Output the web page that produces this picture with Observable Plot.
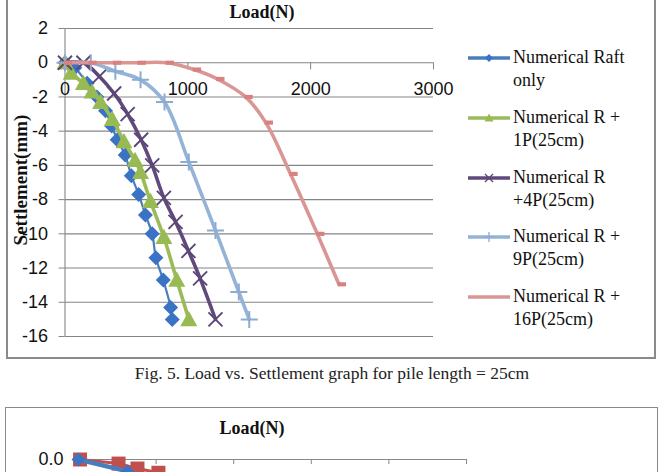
<!DOCTYPE html>
<html>
<head>
<meta charset="utf-8">
<script src="https://cdn.jsdelivr.net/npm/d3@7"></script>
<script src="https://cdn.jsdelivr.net/npm/@observablehq/plot@0.6"></script>
<style>
  body { margin: 0; background: #fff; }
  #page { position: relative; width: 664px; height: 800px; overflow: hidden; }
  .abs { position: absolute; }
  .frame { position: absolute; box-sizing: border-box; border: 2px solid #8a8a8a; }
  .title { font-family: "Liberation Serif", "Times New Roman", serif; font-weight: bold; font-size: 18px; line-height: 20px; text-align: center; color: #111; }
  .ytitle { font-family: "Liberation Serif", "Times New Roman", serif; font-weight: bold; font-size: 19px; white-space: nowrap; color: #111; transform: translate(-50%, -50%) rotate(-90deg); }
  .caption { font-family: "Liberation Serif", "Times New Roman", serif; font-size: 17.5px; line-height: 22px; text-align: center; color: #222; }
  .leg { position: absolute; font-family: "Liberation Serif", "Times New Roman", serif; font-size: 18px; line-height: 23px; color: #111; white-space: nowrap; }
  .legsw { position: absolute; }
</style>
</head>
<body>
<div id="page"></div>
<script>
// ---------- Data (Fig. 5, pile length = 25cm) ----------
const seriesNames = ["Numerical Raft only", "Numerical R + 1P(25cm)", "Numerical R +4P(25cm)", "Numerical R + 9P(25cm)", "Numerical R + 16P(25cm)"];
const legendLines = [["Numerical Raft", "only"], ["Numerical R +", "1P(25cm)"], ["Numerical R", "+4P(25cm)"], ["Numerical R +", "9P(25cm)"], ["Numerical R +", "16P(25cm)"]];

const raftLoad   = [0, 80, 180, 260, 330, 380, 425, 490, 540, 600, 655, 710, 740, 800, 860, 873];
const raftSettle = [0, -0.3, -1.2, -2.0, -2.8, -3.7, -4.5, -5.4, -6.6, -7.7, -8.9, -10.0, -11.4, -12.7, -14.3, -15.0];

const p1Load   = [0, 50, 150, 220, 290, 385, 480, 570, 615, 696, 805, 910, 1008];
const p1Settle = [0, -0.6, -1.2, -1.7, -2.3, -3.3, -4.6, -5.7, -6.4, -8.1, -10.2, -12.7, -15.0];

const p4Load   = [0, 150, 280, 400, 510, 620, 710, 805, 900, 1005, 1100, 1225];
const p4Settle = [0, 0, -0.8, -1.8, -3.0, -4.5, -6.0, -7.9, -9.3, -11.0, -12.6, -15.0];

const p9Load   = [0, 210, 410, 615, 810, 1008, 1225, 1415, 1500];
const p9Settle = [0, 0, -0.5, -1.0, -2.3, -5.8, -9.8, -13.4, -15.0];

const p16Load   = [0, 200, 400, 600, 830, 1050, 1240, 1470, 1635, 1836, 2054, 2230];
const p16Settle = [0, 0, 0, 0, 0, -0.4, -0.95, -2.0, -3.5, -6.5, -10.0, -12.95];

const xTicks = [0, 1000, 2000, 3000];
const yTicks = [2, 0, -2, -4, -6, -8, -10, -12, -14, -16];

// second (partly visible) figure
const fig6BlueLoad   = [0, 316];
const fig6BlueSettle = [0, -0.7];
const fig6RedLoad    = [10, 258, 380, 515];
const fig6RedSettle  = [0, -0.24, -0.53, -0.78];
const fig6XTicks = [0, 500, 1000, 1500, 2000, 2500];
const fig6YTicks = [0];

// ---------- Symbols ----------
const rOf = size => Math.sqrt(size / Math.PI);
const diamondSym = {draw(c, s) { const r = rOf(s); c.moveTo(0, -r); c.lineTo(r, 0); c.lineTo(0, r); c.lineTo(-r, 0); c.closePath(); }};
const triSym = {draw(c, s) { const r = rOf(s); c.moveTo(0, -r); c.lineTo(r, r * 0.8); c.lineTo(-r, r * 0.8); c.closePath(); }};
const xSym = {draw(c, s) { const r = rOf(s); c.moveTo(-r, -r); c.lineTo(r, r); c.moveTo(r, -r); c.lineTo(-r, r); }};
const plusSym = {draw(c, s) { const r = rOf(s); c.moveTo(-r, 0); c.lineTo(r, 0); c.moveTo(0, -r); c.lineTo(0, r); }};
const dashSym = {draw(c, s) { const r = rOf(s); c.rect(-r * 0.2, -r * 0.32, r * 1.3, r * 0.64); }};
const squareSym = {draw(c, s) { const r = rOf(s); c.rect(-r, -r, 2 * r, 2 * r); }};

const series = [
  {load: raftLoad, settle: raftSettle, color: "#4a7ebb", mcolor: "#3a73c4", sym: diamondSym, r: 7.5, filled: true, lw: 2.2, lr: 4},
  {load: p1Load, settle: p1Settle, color: "#9bbb59", mcolor: "#98ba52", sym: triSym, r: 8.5, filled: true, lw: 3.6, lr: 4.5},
  {load: p4Load, settle: p4Settle, color: "#604a7b", mcolor: "#5b4677", sym: xSym, r: 7, filled: false, lw: 3.6, sw: 1.9, lr: 4},
  {load: p9Load, settle: p9Settle, color: "#95b3d7", mcolor: "#8cacd4", sym: plusSym, r: 8.5, filled: false, lw: 3.6, sw: 2, lr: 5},
  {load: p16Load, settle: p16Settle, color: "#d99694", mcolor: "#d8817f", sym: dashSym, r: 6.5, filled: true, lw: 3.6, lr: 0}
];

const page = document.getElementById("page");
const FONT = "'Liberation Sans', Arial, sans-serif";

// ---------- Figure 5 ----------
const marks = [
  Plot.gridY(yTicks, {stroke: "#858585", strokeOpacity: 1, strokeWidth: 1.1}),
  Plot.ruleX([0], {stroke: "#858585", strokeWidth: 1.1}),
  Plot.axisY(yTicks, {tickSize: 6, tickPadding: 11, fontSize: 18, stroke: "#858585", tickFormat: d => String(d), label: null, fill: "#111"}),
  Plot.ruleX(xTicks.filter(d => d > 0), {x: d => d, y1: 0, y2: -0.42, stroke: "#858585"}),
  Plot.text(xTicks, {x: d => d, y: 0, dy: 27, text: d => String(d), fontSize: 18, fill: "#111"})
];
series.forEach(s => {
  const rows = s.load.map((x, i) => ({x, y: s.settle[i]}));
  marks.push(Plot.line(rows, {x: "x", y: "y", stroke: s.color, strokeWidth: s.lw, curve: "catmull-rom"}));
  marks.push(Plot.dot(rows, s.filled
    ? {x: "x", y: "y", symbol: s.sym, r: s.r, fill: s.mcolor, stroke: "none"}
    : {x: "x", y: "y", symbol: s.sym, r: s.r, fill: "none", stroke: s.mcolor, strokeWidth: s.sw}));
});

const chart1 = Plot.plot({
  width: 664, height: 360,
  marginLeft: 64.5, marginRight: 231, marginTop: 28, marginBottom: 24,
  x: {domain: [0, 3000], axis: null},
  y: {domain: [-16, 2], axis: null},
  style: {fontFamily: FONT, fontSize: "18px", background: "transparent", overflow: "visible", color: "#111"},
  marks
});
chart1.style.position = "absolute";
chart1.style.left = "0px";
chart1.style.top = "0px";

const frame1 = document.createElement("div");
frame1.className = "frame";
Object.assign(frame1.style, {left: "6px", top: "-3px", width: "650px", height: "362px"});
page.appendChild(frame1);
page.appendChild(chart1);

const t1 = document.createElement("div");
t1.className = "abs title";
Object.assign(t1.style, {left: "0px", top: "2px", width: "524px"});
t1.textContent = "Load(N)";
page.appendChild(t1);

const yt = document.createElement("div");
yt.className = "abs ytitle";
Object.assign(yt.style, {left: "21px", top: "180px"});
yt.textContent = "Settlement(mm)";
page.appendChild(yt);

// legend
legendLines.forEach((lines, i) => {
  const s = series[i];
  const cy = 58 + i * 59.8;
  const sw = document.createElementNS("http://www.w3.org/2000/svg", "svg");
  sw.setAttribute("width", 44); sw.setAttribute("height", 14);
  sw.setAttribute("class", "legsw");
  sw.style.left = "467px"; sw.style.top = (cy - 7) + "px";
  const sel = d3.select(sw);
  sel.append("line").attr("x1", 1).attr("x2", 43).attr("y1", 7).attr("y2", 7)
    .attr("stroke", s.color).attr("stroke-width", 3.4);
  if (s.lr > 0) {
    const p = d3.path();
    s.sym.draw(p, Math.PI * s.lr * s.lr);
    sel.append("path").attr("transform", "translate(22,7)").attr("d", p.toString())
      .attr("fill", s.filled ? s.mcolor : "none")
      .attr("stroke", s.filled ? "none" : s.mcolor).attr("stroke-width", 1.3);
  }
  page.appendChild(sw);
  const tx = document.createElement("div");
  tx.className = "leg";
  tx.style.left = "513px"; tx.style.top = (cy - 12) + "px";
  tx.innerHTML = lines.join("<br>");
  page.appendChild(tx);
});

const cap = document.createElement("div");
cap.className = "abs caption";
Object.assign(cap.style, {left: "0px", top: "362px", width: "664px"});
cap.textContent = "Fig. 5. Load vs. Settlement graph for pile length = 25cm";
page.appendChild(cap);

// ---------- Figure 6 (top part visible) ----------
const frame2 = document.createElement("div");
frame2.className = "frame";
Object.assign(frame2.style, {left: "5px", top: "407px", width: "653px", height: "380px", borderWidth: "1.5px"});
page.appendChild(frame2);

const redRows = fig6RedLoad.map((x, i) => ({x, y: fig6RedSettle[i]}));
const blueRows = fig6BlueLoad.map((x, i) => ({x, y: fig6BlueSettle[i]}));
const chart2 = Plot.plot({
  width: 664, height: 361,
  marginLeft: 78, marginRight: 198, marginTop: 59, marginBottom: 30,
  x: {domain: [0, 2500], axis: null},
  y: {domain: [-16, 0], axis: null},
  style: {fontFamily: "'Liberation Sans Narrow', 'Liberation Sans', sans-serif", fontSize: "18px", background: "transparent", overflow: "visible"},
  marks: [
    Plot.ruleY([0], {stroke: "#878787"}),
    Plot.ruleX(fig6XTicks, {x: d => d, y1: 0, y2: -0.3, stroke: "#878787"}),
    Plot.axisY(fig6YTicks, {tickSize: 0, tickPadding: 15, fontSize: 18, tickFormat: d => d.toFixed(1), label: null, fill: "#111"}),
    Plot.line(redRows, {x: "x", y: "y", stroke: "#c0504d", strokeWidth: 3}),
    Plot.dot(redRows, {x: "x", y: "y", symbol: squareSym, r: 7, fill: "#c0504d", stroke: "none"}),
    Plot.line(blueRows, {x: "x", y: "y", stroke: "#4a7ebb", strokeWidth: 4.5}),
    Plot.dot(blueRows, {x: "x", y: "y", symbol: diamondSym, r: 7, fill: "#3b74c4", stroke: "none"})
  ]
});
chart2.style.position = "absolute";
chart2.style.left = "0px";
chart2.style.top = "400px";
page.appendChild(chart2);

const t2 = document.createElement("div");
t2.className = "abs title";
Object.assign(t2.style, {left: "0px", top: "418px", width: "504px"});
t2.textContent = "Load(N)";
page.appendChild(t2);
</script>
</body>
</html>
